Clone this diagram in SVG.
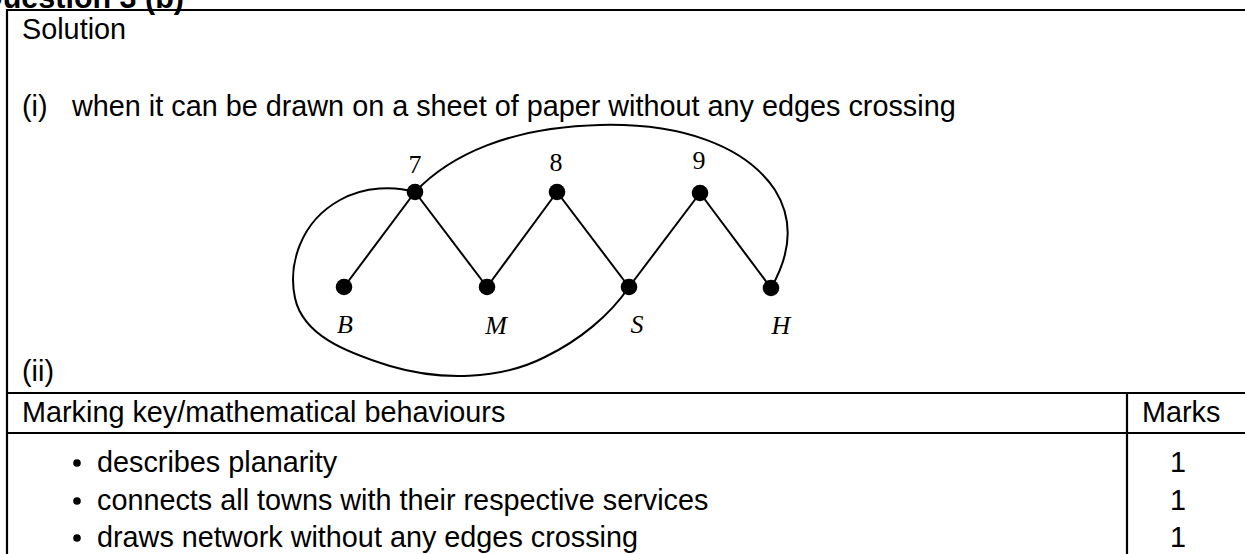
<svg xmlns="http://www.w3.org/2000/svg" width="1245" height="554" viewBox="0 0 1245 554">
<style>
.t{font-family:"Liberation Sans",Arial,sans-serif;font-size:28.8px;fill:#000}
.h{font-family:"Liberation Sans",Arial,sans-serif;font-size:30.5px;font-weight:bold;fill:#000}
.num{font-family:"Liberation Serif","Times New Roman",serif;font-size:26px;fill:#000;text-anchor:middle}
.lab{font-family:"Liberation Serif","Times New Roman",serif;font-size:26px;font-style:italic;fill:#000;text-anchor:middle}
.edge{stroke:#000;stroke-width:2;fill:none}
.border{stroke:#000;stroke-width:2.2;fill:none}
.dot{fill:#000}
</style>
<rect width="1245" height="554" fill="#fff"/>
<text class="h" x="184" y="8" text-anchor="end">Question 3 (b)</text>
<g id="frame">
<line class="border" x1="7" y1="10" x2="1245" y2="10"/>
<line class="border" x1="7" y1="9" x2="7" y2="554"/>
<line class="border" x1="7" y1="393" x2="1245" y2="393"/>
<line class="border" x1="7" y1="433" x2="1245" y2="433"/>
<line class="border" x1="1127" y1="393" x2="1127" y2="554"/>
</g>
<text class="t" x="22" y="39">Solution</text>
<text class="t" x="22" y="116">(i)</text>
<text class="t" x="72" y="116">when it can be drawn on a sheet of paper without any edges crossing</text>
<g id="connectors">
<line class="edge" x1="415" y1="192" x2="344" y2="287"/>
<line class="edge" x1="415" y1="192" x2="487" y2="287"/>
<line class="edge" x1="557" y1="192" x2="487" y2="287"/>
<line class="edge" x1="557" y1="192" x2="629" y2="287"/>
<line class="edge" x1="700" y1="193" x2="629" y2="287"/>
<line class="edge" x1="700" y1="193" x2="771" y2="288"/>
<path class="edge" d="M415,192 C395,186 365,186 340,200 C300,222 288,265 295,298 C303,335 345,352 390,366 C440,381 500,380 545,357 C580,340 610,315 629,287"/>
<path class="edge" d="M415,192 C450,155 510,127 600,125 C680,123 745,145 775,190 C795,222 790,255 771,288"/>
</g>
<g id="n7"><circle class="dot" cx="415" cy="192" r="8.3"/><text class="num" x="415" y="173">7</text></g>
<g id="n8"><circle class="dot" cx="557" cy="192" r="8.3"/><text class="num" x="556" y="171">8</text></g>
<g id="n9"><circle class="dot" cx="700" cy="193" r="8.3"/><text class="num" x="699" y="169">9</text></g>
<g id="nB"><circle class="dot" cx="344" cy="287" r="8.3"/><text class="lab" x="345" y="333">B</text></g>
<g id="nM"><circle class="dot" cx="487" cy="287" r="8.3"/><text class="lab" x="496" y="334">M</text></g>
<g id="nS"><circle class="dot" cx="629" cy="287" r="8.3"/><text class="lab" x="637" y="333">S</text></g>
<g id="nH"><circle class="dot" cx="771" cy="288" r="8.3"/><text class="lab" x="781" y="334">H</text></g>
<text class="t" x="22" y="381">(ii)</text>
<g id="table">
<text class="t" x="22" y="422">Marking key/mathematical behaviours</text>
<text class="t" x="1142" y="422">Marks</text>
<circle class="dot" cx="77" cy="463" r="3.8"/>
<text class="t" x="97" y="472">describes planarity</text>
<circle class="dot" cx="77" cy="501" r="3.8"/>
<text class="t" x="97" y="510">connects all towns with their respective services</text>
<circle class="dot" cx="77" cy="538" r="3.8"/>
<text class="t" x="97" y="547">draws network without any edges crossing</text>
<text class="t" x="1178" y="472" text-anchor="middle">1</text>
<text class="t" x="1178" y="510" text-anchor="middle">1</text>
<text class="t" x="1178" y="547" text-anchor="middle">1</text>
</g>
</svg>
